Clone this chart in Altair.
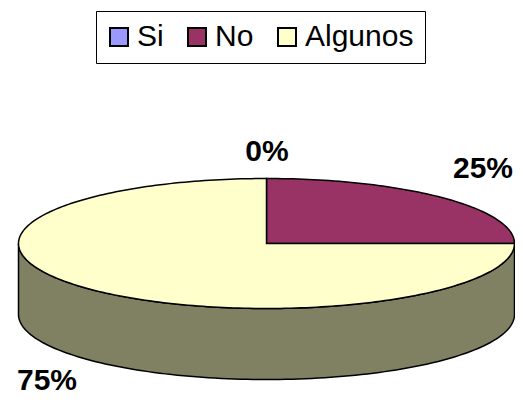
import math
import altair as alt

categories = ["Si", "No", "Algunos"]
shares = [0, 25, 75]
labels = ["0%", "25%", "75%"]
colors = ["#9999FF", "#993366", "#FFFFCC"]
side_color = "#808063"
label_x = [267, 483, 47]
label_y = [152, 169, 381]

W, H = 507, 390
CX, CY = 258.5, 235.5
RX, RY = 248, 65
DEPTH = 71


def pt(turn, dy=0):
    a = 2 * math.pi * turn
    return [RX * math.sin(a), RY * math.cos(a) - dy]


def feature(name, ring):
    return {"type": "Feature", "properties": {"name": name},
            "geometry": {"type": "Polygon", "coordinates": [ring + [ring[0]]]}}


slices, cum = [], 0.0
for name, share in zip(categories, shares):
    n = max(2, int(share * 3))
    start, end = cum, cum + share / sum(shares)
    arc = [pt(start + (end - start) * i / (n - 1)) for i in range(n)]
    slices.append(feature(name, [[0, 0]] + arc))
    cum = end

front = [pt(0.25 + 0.5 * i / 120) for i in range(121)]
back = [pt(0.75 - 0.5 * i / 120, DEPTH) for i in range(121)]
side = [feature("side", front + back)]

proj = dict(type="identity", reflectY=True, scale=1, translate=[CX, CY])

side_layer = alt.Chart(alt.Data(values=side)).mark_geoshape(
    fill=side_color, stroke="black", strokeWidth=1.5
).project(**proj)

pie_layer = alt.Chart(alt.Data(values=slices)).mark_geoshape(
    stroke="black", strokeWidth=1.5
).encode(
    fill=alt.Color(
        "properties.name:N",
        scale=alt.Scale(domain=categories, range=colors),
        legend=alt.Legend(
            title=None, orient="none", legendX=88, legendY=3, direction="horizontal",
            columns=3, columnPadding=20, padding=11, symbolType="square", symbolSize=324,
            symbolOffset=-3, symbolStrokeColor="black", symbolStrokeWidth=2,
            labelFont="Liberation Sans", labelFontSize=30, labelColor="black",
            labelOffset=3, labelLimit=200,
            fillColor="white", strokeColor="black", cornerRadius=0,
        ),
    )
).project(**proj)

text_layers = [
    alt.Chart(alt.Data(values=[{"t": t}])).mark_text(
        font="Liberation Sans", fontWeight="bold", fontSize=30, color="black",
        align="center", baseline="middle",
    ).encode(text="t:N", x=alt.value(x - 8), y=alt.value(y - 8))
    for t, x, y in zip(labels, label_x, label_y)
]

chart = alt.layer(side_layer, pie_layer, *text_layers).properties(
    width=W, height=H, padding=0, autosize=alt.AutoSizeParams(type="none"),
    background="white",
).configure_view(stroke=None)

chart.save("out.html", embed_options={"renderer": "svg", "actions": False})
